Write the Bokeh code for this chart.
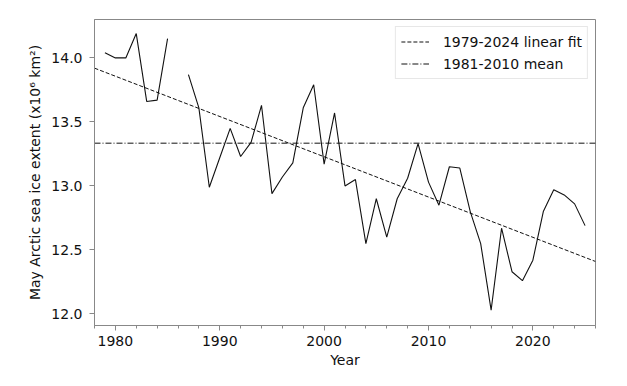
from bokeh.plotting import figure
from bokeh.models import FixedTicker, PrintfTickFormatter, Range1d, Legend, LegendItem
from bokeh.embed import file_html
from bokeh.resources import INLINE
import numpy as np

# ---- data ----
years = list(range(1979, 2026))
extent = [14.04, 14.00, 14.00, 14.19, 13.66, 13.67, 14.15, np.nan, 13.87, 13.61,
          12.99, 13.22, 13.45, 13.23, 13.34, 13.63, 12.94, 13.07, 13.18, 13.61,
          13.79, 13.17, 13.57, 13.00, 13.05, 12.55, 12.90, 12.60, 12.90, 13.06,
          13.33, 13.03, 12.85, 13.15, 13.14, 12.80, 12.55, 12.03, 12.67, 12.33,
          12.26, 12.42, 12.80, 12.97, 12.93, 12.86, 12.69]

trend_years = [1978, 2026]
trend_values = [13.92, 12.41]
mean_value = 13.334

x_start, x_end = 1978, 2026
y_start, y_end = 11.91, 14.30
x_major = [1980, 1990, 2000, 2010, 2020]
x_minor = list(range(1978, 2027, 2))
y_major = [12.0, 12.5, 13.0, 13.5, 14.0]

FONT = "DejaVu Sans"
GRAY = "#888888"

p = figure(width=611, height=370, output_backend="svg", toolbar_location=None,
           x_range=Range1d(x_start, x_end), y_range=Range1d(y_start, y_end),
           min_border_left=94, min_border_right=16, min_border_top=19, min_border_bottom=42)

p.xgrid.visible = False
p.ygrid.visible = False
p.outline_line_color = GRAY
p.outline_line_width = 1

r_data = p.line(years, extent, line_color="#111111", line_width=1.1)
r_trend = p.line(trend_years, trend_values, line_color="#111111", line_width=1, line_dash="4 2")
r_mean = p.line([x_start, x_end], [mean_value, mean_value], line_color="#111111", line_width=1,
                line_dash="6 2 1 2")

for ax in (p.xaxis[0], p.yaxis[0]):
    ax.axis_line_color = GRAY
    ax.major_tick_line_color = GRAY
    ax.minor_tick_line_color = GRAY
    ax.major_tick_out = 5
    ax.major_tick_in = 0
    ax.minor_tick_out = 3
    ax.minor_tick_in = 0
    ax.major_label_text_font = FONT
    ax.major_label_text_font_size = "14px"
    ax.major_label_text_color = "#111111"
    ax.axis_label_text_font = FONT
    ax.axis_label_text_font_size = "14px"
    ax.axis_label_text_color = "#111111"
    ax.axis_label_text_font_style = "normal"

p.xaxis.ticker = FixedTicker(ticks=x_major, minor_ticks=x_minor)
p.yaxis.ticker = FixedTicker(ticks=y_major, minor_ticks=[])
p.yaxis.formatter = PrintfTickFormatter(format="%.1f")
p.xaxis.axis_label = "Year"
p.yaxis.axis_label = "May Arctic sea ice extent (x10\u2076 km\u00b2)"
p.xaxis.major_label_standoff = 5
p.yaxis.major_label_standoff = 7
p.xaxis.axis_label_standoff = 3
p.yaxis.axis_label_standoff = 5

legend = Legend(items=[LegendItem(label="1979-2024 linear fit", renderers=[r_trend]),
                       LegendItem(label="1981-2010 mean", renderers=[r_mean])],
                location="top_right")
legend.margin = 7
legend.padding = 5
legend.spacing = 3
legend.label_height = 19
legend.glyph_height = 19
legend.glyph_width = 28
legend.label_standoff = 14
legend.label_text_font = FONT
legend.label_text_font_size = "14px"
legend.label_text_color = "#111111"
legend.border_line_color = "#d0d0d0"
legend.border_line_width = 1
legend.background_fill_color = "white"
legend.background_fill_alpha = 0.8
p.add_layout(legend)

open("out.html", "w").write(file_html(p, INLINE))
